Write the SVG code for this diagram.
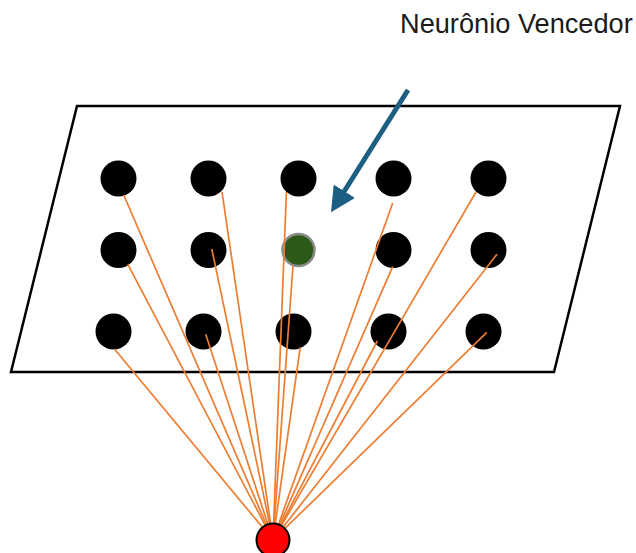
<svg xmlns="http://www.w3.org/2000/svg" width="636" height="553" viewBox="0 0 636 553">
  <defs>
    <style>
      .plane { fill: #ffffff; stroke: #000000; stroke-width: 2.5; }
      .neuron { fill: #000000; }
      .winner { fill: #2b5a17; stroke: #8a8a8a; stroke-width: 2.5; }
      .input { fill: #ff0000; stroke: #000000; stroke-width: 2; }
      .link { stroke: #ed7d31; stroke-width: 1.7; fill: none; }
      .pointer { stroke: #1c5f82; stroke-width: 5; fill: none; }
      .label { font-family: "Liberation Sans", Arial, sans-serif; font-size: 27.2px; fill: #1a1a1a; }
    </style>
    <marker id="arrowhead" viewBox="0 0 10 10" refX="7" refY="5" markerWidth="5" markerHeight="5" orient="auto" markerUnits="strokeWidth">
      <path d="M0,0 L10,5 L0,10 z" fill="#1c5f82"/>
    </marker>
    <filter id="soft" x="-30%" y="-30%" width="160%" height="160%">
      <feGaussianBlur stdDeviation="0.5"/>
    </filter>
  </defs>

  <rect width="636" height="553" fill="#ffffff"/>

  <!-- map plane -->
  <polygon class="plane" points="77,106 620,106 554,372 11,372"/>

  <!-- map neurons -->
  <g id="n11"><circle class="neuron" cx="118.5" cy="178.5" r="18"/></g>
  <g id="n12"><circle class="neuron" cx="208.5" cy="178.5" r="18"/></g>
  <g id="n13"><circle class="neuron" cx="298.5" cy="178.5" r="18"/></g>
  <g id="n14"><circle class="neuron" cx="393.5" cy="178.5" r="18"/></g>
  <g id="n15"><circle class="neuron" cx="488.5" cy="178.5" r="18"/></g>

  <g id="n21"><circle class="neuron" cx="118.5" cy="250" r="18"/></g>
  <g id="n22"><circle class="neuron" cx="208.5" cy="250" r="18"/></g>
  <g id="n23"><circle class="winner" cx="298.5" cy="250" r="16" filter="url(#soft)"/></g>
  <g id="n24"><circle class="neuron" cx="393.5" cy="250" r="18"/></g>
  <g id="n25"><circle class="neuron" cx="488.5" cy="250" r="18"/></g>

  <g id="n31"><circle class="neuron" cx="113.5" cy="331.5" r="18"/></g>
  <g id="n32"><circle class="neuron" cx="203.5" cy="331.5" r="18"/></g>
  <g id="n33"><circle class="neuron" cx="293.5" cy="331.5" r="18"/></g>
  <g id="n34"><circle class="neuron" cx="388.5" cy="331.5" r="18"/></g>
  <g id="n35"><circle class="neuron" cx="483.5" cy="331.5" r="18"/></g>

  <!-- weight connections from the input to every neuron -->
  <g id="connectors">
    <line class="link" x1="123.7" y1="195" x2="273" y2="540"/>
    <line class="link" x1="222" y1="192" x2="273" y2="540"/>
    <line class="link" x1="286.4" y1="192" x2="273" y2="540"/>
    <line class="link" x1="392.7" y1="203" x2="273" y2="540"/>
    <line class="link" x1="476" y1="192" x2="273" y2="540"/>

    <line class="link" x1="127.8" y1="264.3" x2="273" y2="540"/>
    <line class="link" x1="211.8" y1="249" x2="273" y2="540"/>
    <line class="link" x1="293" y1="266" x2="273" y2="540"/>
    <line class="link" x1="392.7" y1="266.7" x2="273" y2="540"/>
    <line class="link" x1="497" y1="254.3" x2="273" y2="540"/>

    <line class="link" x1="114.4" y1="349" x2="273" y2="540"/>
    <line class="link" x1="205.7" y1="334.3" x2="273" y2="540"/>
    <line class="link" x1="300.2" y1="347.3" x2="273" y2="540"/>
    <line class="link" x1="377.3" y1="341" x2="273" y2="540"/>
    <line class="link" x1="486.8" y1="332.3" x2="273" y2="540"/>
  </g>

  <!-- input node -->
  <g id="input"><circle class="input" cx="273" cy="540" r="16.5"/></g>

  <!-- winner pointer and caption -->
  <g id="winner-pointer">
    <line class="pointer" x1="408" y1="90" x2="335" y2="206" marker-end="url(#arrowhead)"/>
  </g>
  <g id="caption">
    <text class="label" x="400" y="33">Neurônio Vencedor</text>
  </g>
</svg>
